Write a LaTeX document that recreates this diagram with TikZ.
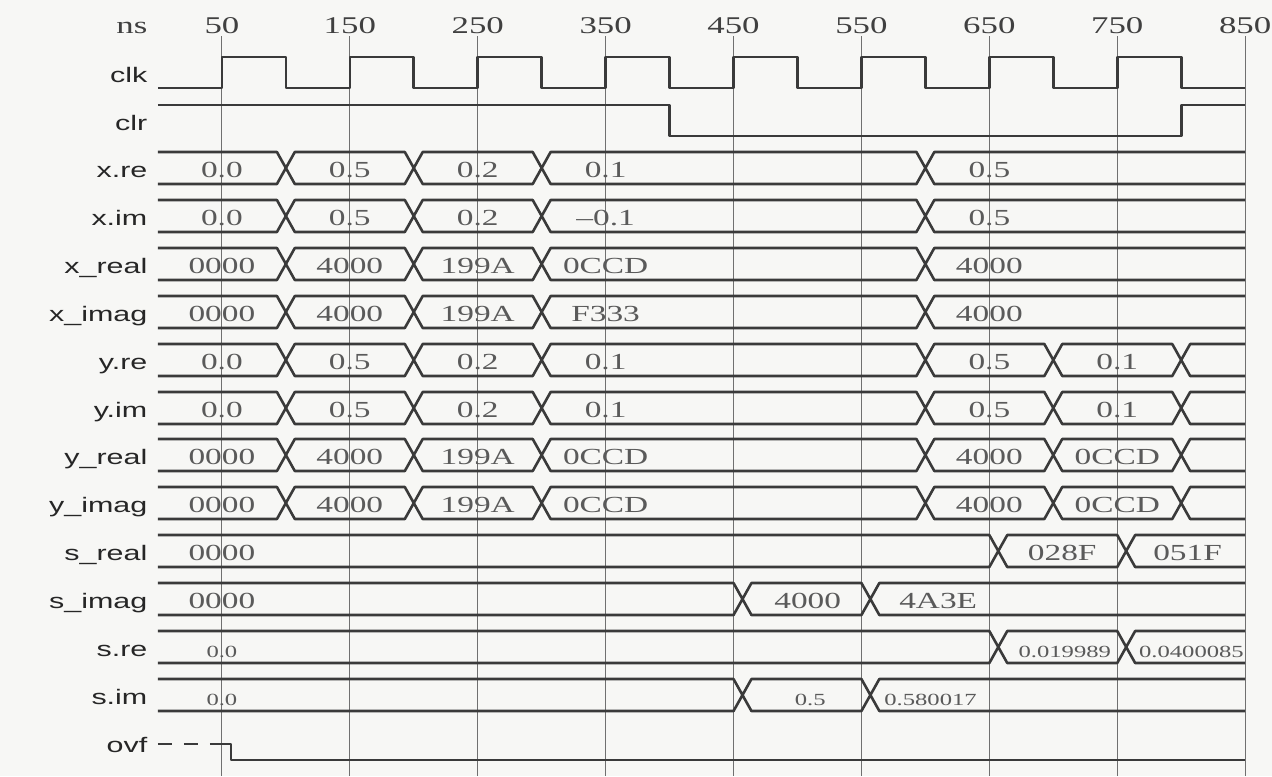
\documentclass[tikz,border=0pt]{standalone}
\usepackage{fontspec}
\setsansfont{Liberation Sans}[FakeStretch=1.45]
\newfontfamily\valfont{Liberation Serif}[FakeStretch=1.45]
\usepackage{tikz}

\definecolor{wave}{HTML}{3A3A3A}
\definecolor{valtext}{HTML}{5A5A5A}
\definecolor{gridcol}{HTML}{707070}
\definecolor{paper}{HTML}{F7F7F5}

\begin{document}
\begin{tikzpicture}[x=0.6395pt, y=-0.5pt,
  every node/.style={inner sep=0pt},
  sig/.style={draw=wave, line width=1.3pt, line join=round},
  gridline/.style={draw=gridcol, line width=0.5pt},
  nm/.style={anchor=base east, font=\sffamily\fontsize{10.5}{12}\selectfont, text=black!85},
  ticklbl/.style={anchor=base, font=\valfont\fontsize{12}{14}\selectfont, text=black!75},
  val/.style={anchor=base, font=\valfont\fontsize{11.5}{13}\selectfont, text=valtext},
  sval/.style={anchor=base, font=\valfont\fontsize{8.5}{10}\selectfont, text=valtext}]

% Paper
\fill[paper] (-123.5,0) rectangle (871,776);
\useasboundingbox (-123.5,0) rectangle (871,776);

% Time grid
\node[ticklbl, anchor=base east] (ns) at (-8,33) {ns};
\foreach \t in {50,150,...,850}{
  \draw[gridline] (\t,36) -- (\t,776);
  \node[ticklbl] (tick\t) at (\t,33) {\t};
}

% Signal names
\foreach \y/\name [count=\i] in {82/clk, 130/clr, 177/x.re, 225/x.im,
    273/x\_real, 321/x\_imag, 369/y.re, 417/y.im, 464/y\_real,
    512/y\_imag, 560/s\_real, 608/s\_imag, 656/s.re, 704/s.im, 752/ovf}
  \node[nm] (name\i) at (-8,\y) {\name};

% Clock and clear
\draw[sig] (0,88) foreach \t in {50,150,...,750}{
  -- (\t,88) -- (\t,57) -- (\t+50,57) -- (\t+50,88) } -- (850,88);
\draw[sig] (0,105) -- (400,105) -- (400,136) -- (800,136) -- (800,105) -- (850,105);

% Buses
\foreach \y/\tlist in {
  168/{100,200,300,600}, 216/{100,200,300,600},
  264/{100,200,300,600}, 312/{100,200,300,600},
  360/{100,200,300,600,700,800}, 408/{100,200,300,600,700,800},
  455/{100,200,300,600,700,800}, 503/{100,200,300,600,700,800},
  551/{657,757}, 599/{457,557}, 647/{657,757}, 695/{457,557}}{
  \draw[sig] (0,\y-16) foreach \T in \tlist {
    -- (\T-7,\y-16) -- (\T,\y) -- (\T+7,\y-16) } -- (850,\y-16);
  \draw[sig] (0,\y+16) foreach \T in \tlist {
    -- (\T-7,\y+16) -- (\T,\y) -- (\T+7,\y+16) } -- (850,\y+16);
}

% Bus values
\foreach \t/\y/\v [count=\i] in {
  50/168/0.0, 150/168/0.5, 250/168/0.2, 350/168/0.1, 650/168/0.5,
  50/216/0.0, 150/216/0.5, 250/216/0.2, 350/216/–0.1, 650/216/0.5,
  50/264/0000, 150/264/4000, 250/264/199A, 350/264/0CCD, 650/264/4000,
  50/312/0000, 150/312/4000, 250/312/199A, 350/312/F333, 650/312/4000,
  50/360/0.0, 150/360/0.5, 250/360/0.2, 350/360/0.1, 650/360/0.5, 750/360/0.1,
  50/408/0.0, 150/408/0.5, 250/408/0.2, 350/408/0.1, 650/408/0.5, 750/408/0.1,
  50/455/0000, 150/455/4000, 250/455/199A, 350/455/0CCD, 650/455/4000, 750/455/0CCD,
  50/503/0000, 150/503/4000, 250/503/199A, 350/503/0CCD, 650/503/4000, 750/503/0CCD,
  50/551/0000, 707/551/028F, 805/551/051F,
  50/599/0000, 508/599/4000, 610/599/4A3E}
  \node[val] (v\i) at (\t,\y+9) {\v};
\foreach \t/\y/\v [count=\i] in {
  50/647/0.0, 709/647/0.019989, 808/647/0.0400085,
  50/695/0.0, 510/695/0.5, 604/695/0.580017}
  \node[sval] (sv\i) at (\t,\y+10) {\v};

% Overflow
\draw[sig, line width=1pt, dash pattern=on 7pt off 6pt] (0,744) -- (57,744);
\draw[sig] (52,744) -- (57,744) -- (57,760) -- (850,760);
\end{tikzpicture}
\end{document}
